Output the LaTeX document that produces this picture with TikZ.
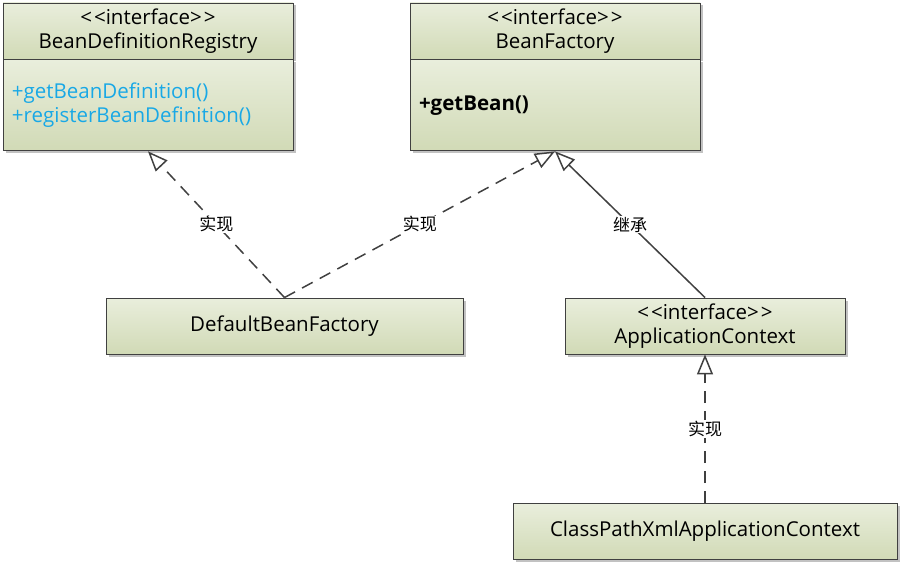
\documentclass[tikz,border=0pt]{standalone}
\usepackage{fontspec}
\setmainfont{Open Sans}
\newfontfamily\cjk{Noto Sans CJK SC}
\usepackage{xcolor}
\usepackage{tikz}
\usetikzlibrary{arrows.meta, positioning, shadows}
\definecolor{boxtop}{RGB}{233,238,220}
\definecolor{boxbot}{RGB}{209,218,182}
\definecolor{opblue}{RGB}{24,168,230}
\definecolor{edge}{RGB}{64,64,64}
\newcommand{\stereo}{<\kern2pt<interface>\kern2pt>}

\begin{document}
\begin{tikzpicture}[x=1pt, y=-1pt,
  box/.style={draw=edge, line width=0.9pt, top color=boxtop, bottom color=boxbot,
              align=center, font=\fontsize{20.5}{24}\selectfont, inner sep=0pt,
              minimum height=56pt,
              drop shadow={shadow xshift=2.5pt, shadow yshift=-2.5pt, fill=black!40, opacity=.6}},
  body/.style={box, minimum height=91pt, inner xsep=9pt, text width=272pt, align=left},
  arr/.style={draw=edge, line width=1.5pt, -{Triangle[open, length=20pt, width=16pt]}},
  impl/.style={arr, dash pattern=on 12pt off 8pt},
  lbl/.style={fill=white, inner sep=1pt, font=\cjk\fontsize{17}{17}\selectfont}]
\useasboundingbox (0,0) rectangle (903,567);
% two interfaces on top
\node[box, minimum width=290pt] (reghead) at (148,31) {\stereo\\BeanDefinitionRegistry};
\node[body, below=0pt of reghead, text=opblue] (reg) {+getBeanDefinition()\\+registerBeanDefinition()};
\node[box, minimum width=290pt] (facthead) at (555,31) {\stereo\\BeanFactory};
\node[body, below=0pt of facthead] (fact) {\textbf{+getBean()}};
% implementations
\node[box, minimum width=357pt] (dbf) at (284.5,326) {DefaultBeanFactory};
\node[box, minimum width=280pt] (ctx) at (705,326) {\stereo\\ApplicationContext};
\node[box, minimum width=384pt] (cpx) at (705,531.5) {ClassPathXmlApplicationContext};
\draw[impl] (dbf.north) -- node[lbl] {实现} (reg.south);
\draw[impl] (dbf.north) -- node[lbl] {实现} (fact.south);
\draw[arr] (ctx.north) -- node[lbl] {继承} (fact.south);
\draw[impl] (cpx.north) -- node[lbl] {实现} (ctx.south);
\end{tikzpicture}
\end{document}
